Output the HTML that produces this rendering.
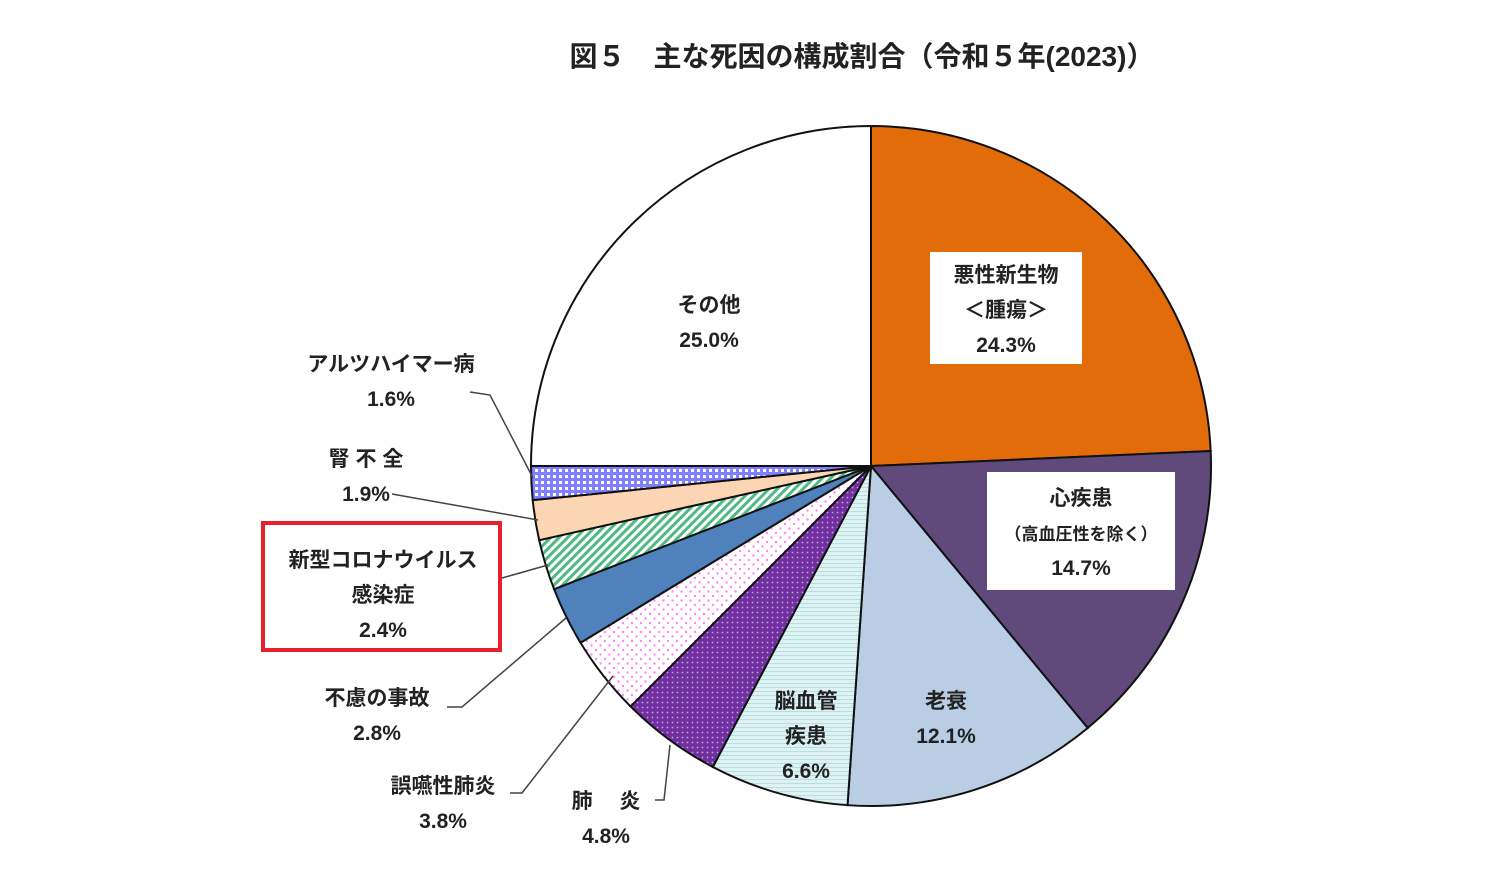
<!DOCTYPE html>
<html><head><meta charset="utf-8">
<style>
html,body{margin:0;padding:0;background:#fff;}
svg{display:block;font-family:"Liberation Sans","Noto Sans CJK JP",sans-serif;}
</style></head>
<body>
<svg id="chart" width="1510" height="877" viewBox="0 0 1510 877">
<defs>
<pattern id="pStripe" width="4" height="4" patternUnits="userSpaceOnUse"><rect width="4" height="4" fill="#dff2f3"/><rect y="3" width="4" height="1" fill="#b8dfe0"/></pattern>
<pattern id="pPurple" width="5" height="5" patternUnits="userSpaceOnUse"><rect width="5" height="5" fill="#7030a0"/><circle cx="2.5" cy="2.5" r="0.9" fill="#c9a3e0"/></pattern>
<pattern id="pPink" width="9" height="9" patternUnits="userSpaceOnUse"><rect width="9" height="9" fill="#fff"/><circle cx="2" cy="2" r="1.2" fill="#ff88ee"/><circle cx="6.5" cy="6.5" r="1.2" fill="#ff88ee"/></pattern>
<pattern id="pGreen" width="6" height="6" patternUnits="userSpaceOnUse" patternTransform="rotate(45)"><rect width="6" height="6" fill="#fff"/><rect width="3" height="6" fill="#4fb982"/></pattern>
<pattern id="pGrid" width="6" height="6" patternUnits="userSpaceOnUse"><rect width="6" height="6" fill="#7f7fff"/><rect x="1" y="1" width="3" height="3" fill="#fff"/></pattern>
</defs>
<text x="862" y="66" font-size="28" font-weight="bold" text-anchor="middle" fill="#222">図５　主な死因の構成割合（令和５年(2023)）</text>
<g id="slices"></g>
<g id="labels" font-size="21" fill="#222" text-anchor="middle" font-weight="bold"></g>
</svg>
<script>
const categories=["悪性新生物","心疾患","老衰","脳血管疾患","肺炎","誤嚥性肺炎","不慮の事故","新型コロナウイルス感染症","腎不全","アルツハイマー病","その他"];
const values=[24.3,14.7,12.1,6.6,4.8,3.8,2.8,2.4,1.9,1.6,25.0];
const fills=["#e36c0a","#604a7b","#b9cde5","url(#pStripe)","url(#pPurple)","url(#pPink)","#4f81bd","url(#pGreen)","#fcd5b5","url(#pGrid)","#ffffff"];
const cx=871,cy=466,r=340;
const total=values.reduce((a,b)=>a+b,0);
function pt(frac){const a=frac*2*Math.PI-Math.PI/2;return [cx+r*Math.cos(a),cy+r*Math.sin(a)];}
const gs=document.getElementById('slices');
let acc=0;
values.forEach((v,i)=>{
  const s=acc/total,e=(acc+v)/total;acc+=v;
  const [x1,y1]=pt(s),[x2,y2]=pt(e);
  const p=document.createElementNS('http://www.w3.org/2000/svg','path');
  p.setAttribute('d',`M${cx},${cy}L${x1},${y1}A${r},${r} 0 ${e-s>0.5?1:0} 1 ${x2},${y2}Z`);
  p.setAttribute('fill',fills[i]);p.setAttribute('stroke','#111');p.setAttribute('stroke-width','2');
  
  
  gs.appendChild(p);
});
const gl=document.getElementById('labels');
const NS='http://www.w3.org/2000/svg';
function box(x,y,w,h,name,stroke){const b=document.createElementNS(NS,'rect');b.setAttribute('x',x);b.setAttribute('y',y);b.setAttribute('width',w);b.setAttribute('height',h);b.setAttribute('fill',stroke?'none':'#fff');if(stroke){b.setAttribute('stroke',stroke);b.setAttribute('stroke-width','4');}


gl.appendChild(b);}
function txt(x,y,lines,name,size){const t=document.createElementNS(NS,'text');t.setAttribute('x',x);t.setAttribute('y',y);if(size)t.setAttribute('font-size',size);
lines.forEach((l,k)=>{const ts=document.createElementNS(NS,'tspan');ts.setAttribute('x',x);ts.setAttribute('dy',k?35:0);ts.textContent=l;t.appendChild(ts);});


gl.appendChild(t);}
function line(pts,name){const l=document.createElementNS(NS,'polyline');l.setAttribute('points',pts);l.setAttribute('fill','none');l.setAttribute('stroke','#444');l.setAttribute('stroke-width','1.5');


gl.appendChild(l);}
const pct=values.map(v=>v.toFixed(1)+'%');
box(930,252,152,112,'cancer-label-box');
txt(1006,282,["悪性新生物","＜腫瘍＞",pct[0]],'cancer-label');
box(987,472,188,118,'heart-label-box');
txt(1081,505,["心疾患"],'heart-label');
txt(1081,540,["（高血圧性を除く）"],'heart-label-note',17);
txt(1081,575,[pct[1]],'heart-label-value');
txt(946,708,["老衰",pct[2]],'senility-label');
txt(806,708,["脳血管","疾患",pct[3]],'stroke-label');
txt(606,808,["肺　 炎",pct[4]],'pneumonia-label');
txt(443,793,["誤嚥性肺炎",pct[5]],'aspiration-label');
txt(377,705,["不慮の事故",pct[6]],'accident-label');
box(263,523,237,127,'covid-highlight-box','#e8202a');
txt(383,567,["新型コロナウイルス","感染症",pct[7]],'covid-label');
txt(366,466,["腎 不 全",pct[8]],'kidney-label');
txt(391,371,["アルツハイマー病",pct[9]],'alzheimer-label');
txt(709,312,["その他",pct[10]],'other-label');
line("470,392 490,395 533,478",'alzheimer-leader');
line("392,494 538,520",'kidney-leader');
line("502,578 548,565",'covid-leader');
line("447,707 462,707 566,618",'accident-leader');
line("510,793 522,793 613,676",'aspiration-leader');
line("655,800 664,800 670,745",'pneumonia-leader');
</script>
</body></html>
